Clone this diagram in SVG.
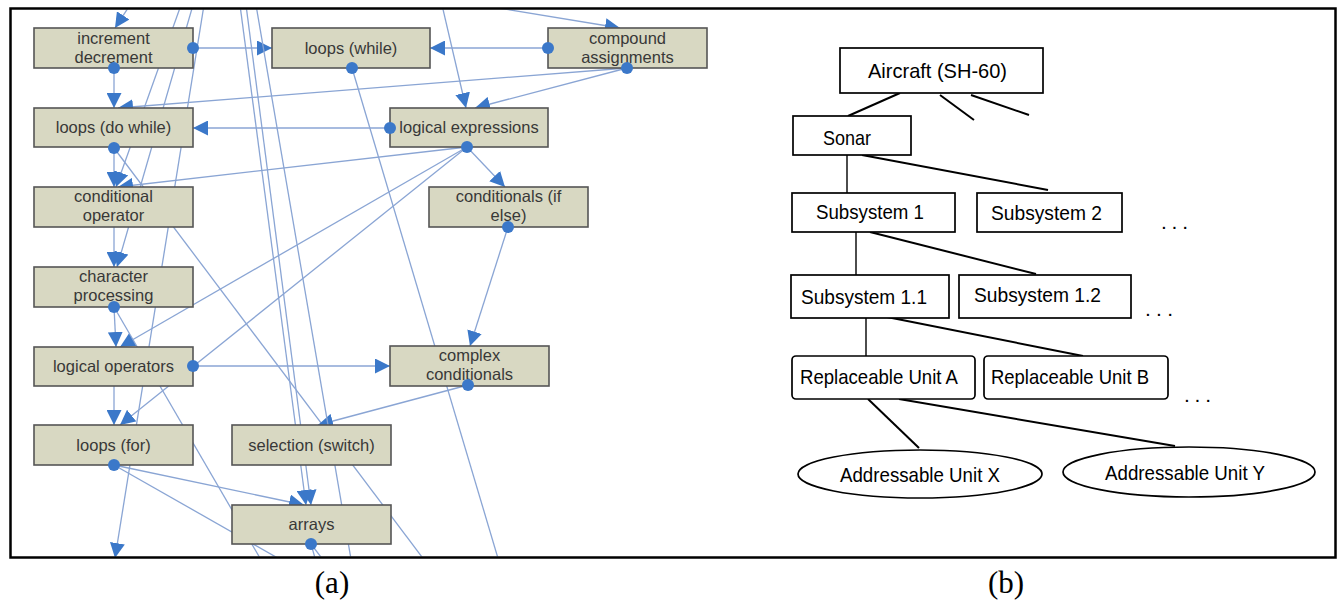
<svg xmlns="http://www.w3.org/2000/svg" width="1338" height="601" viewBox="0 0 1338 601">
<style>
.edge{stroke:#8aa5d4;stroke-width:1.3;fill:none}
.arr{marker-end:url(#arr)}
.node rect{fill:#d8d8c2;stroke:#555;stroke-width:1.6}
.node text,.lbl{font-family:"Liberation Sans",Arial,sans-serif;font-size:16.5px;fill:#383838;text-anchor:middle}
.dot{fill:#3b78c9}
.bbox{fill:#fff;stroke:#000;stroke-width:1.7}
.bline{stroke:#000;stroke-width:2;fill:none}
.btxt{font-family:"Liberation Sans",Arial,sans-serif;font-size:21px;fill:#000}
.cap{font-family:"Liberation Serif","Times New Roman",serif;font-size:31px;fill:#000;text-anchor:middle}
</style>
<defs>
<marker id="arr" markerUnits="userSpaceOnUse" markerWidth="16" markerHeight="15" refX="15" refY="7.5" orient="auto">
<path d="M0,0 L15,7.5 L0,15 z" fill="#3b78c9"/>
</marker>
<clipPath id="clipA"><rect x="11" y="9.5" width="722" height="547"/></clipPath>
</defs>
<rect width="1338" height="601" fill="#fff"/>

<g id="panel-a" clip-path="url(#clipA)">
<g id="connectors-a">
<line class="edge arr" x1="130" y1="5" x2="115" y2="28"/>
<line class="edge arr" x1="193" y1="48" x2="272" y2="48"/>
<line class="edge arr" x1="114" y1="68" x2="114" y2="108"/>
<line class="edge arr" x1="548" y1="48" x2="430" y2="48"/>
<line class="edge arr" x1="627" y1="68" x2="118" y2="108"/>
<line class="edge arr" x1="627" y1="68" x2="475" y2="108"/>
<line class="edge arr" x1="442" y1="5" x2="466" y2="108"/>
<line class="edge arr" x1="480" y1="5" x2="620" y2="28"/>
<line class="edge arr" x1="390" y1="128" x2="193" y2="128"/>
<line class="edge" x1="352" y1="68" x2="500" y2="565"/>
<line class="edge arr" x1="467" y1="147" x2="505" y2="187"/>
<line class="edge arr" x1="467" y1="147" x2="118" y2="187"/>
<line class="edge arr" x1="467" y1="147" x2="120" y2="347"/>
<line class="edge arr" x1="467" y1="147" x2="120" y2="425"/>
<line class="edge arr" x1="114" y1="148" x2="114" y2="187"/>
<line class="edge" x1="114" y1="148" x2="428" y2="565"/>
<line class="edge arr" x1="181" y1="5" x2="116" y2="187"/>
<line class="edge arr" x1="193" y1="5" x2="117" y2="267"/>
<line class="edge arr" x1="204" y1="5" x2="115" y2="558"/>
<line class="edge arr" x1="114" y1="227" x2="114" y2="267"/>
<line class="edge arr" x1="114" y1="307" x2="116" y2="347"/>
<line class="edge" x1="114" y1="307" x2="264" y2="565"/>
<line class="edge arr" x1="114" y1="385" x2="114" y2="425"/>
<line class="edge arr" x1="193" y1="366" x2="390" y2="366"/>
<line class="edge arr" x1="508" y1="227" x2="470" y2="346"/>
<line class="edge arr" x1="468" y1="385" x2="318" y2="425"/>
<line class="edge arr" x1="114" y1="465" x2="304" y2="505"/>
<line class="edge" x1="114" y1="465" x2="290" y2="565"/>
<line class="edge arr" x1="240" y1="5" x2="306" y2="505"/>
<line class="edge arr" x1="246" y1="5" x2="311" y2="505"/>
<line class="edge" x1="256" y1="5" x2="352" y2="565"/>
<line class="edge" x1="311" y1="544" x2="317" y2="565"/>
<line class="edge" x1="311" y1="544" x2="327" y2="565"/>
</g>

<g id="n-incdec" class="node"><rect x="34" y="28" width="159" height="40"/><text x="113.5" y="44">increment</text><text x="113.5" y="63">decrement</text></g>
<g id="n-while" class="node"><rect x="272" y="28" width="158" height="40"/><text x="351" y="54">loops (while)</text></g>
<g id="n-compound" class="node"><rect x="548" y="28" width="159" height="40"/><text x="627.5" y="44">compound</text><text x="627.5" y="63">assignments</text></g>
<g id="n-dowhile" class="node"><rect x="34" y="108" width="159" height="39"/><text x="113.5" y="133">loops (do while)</text></g>
<g id="n-logexpr" class="node"><rect x="390" y="108" width="158" height="39"/><text x="469" y="133">logical expressions</text></g>
<g id="n-condop" class="node"><rect x="34" y="187" width="159" height="40"/><text x="113.5" y="202">conditional</text><text x="113.5" y="221">operator</text></g>
<g id="n-ifelse" class="node"><rect x="429" y="187" width="159" height="40"/><text x="508.5" y="202">conditionals (if</text><text x="508.5" y="221">else)</text></g>
<g id="n-charproc" class="node"><rect x="34" y="267" width="159" height="40"/><text x="113.5" y="282">character</text><text x="113.5" y="301">processing</text></g>
<g id="n-logops" class="node"><rect x="34" y="347" width="159" height="39"/><text x="113.5" y="372">logical operators</text></g>
<g id="n-complex" class="node"><rect x="390" y="346" width="159" height="40"/><text x="469.5" y="361">complex</text><text x="469.5" y="380">conditionals</text></g>
<g id="n-for" class="node"><rect x="34" y="425" width="159" height="40"/><text x="113.5" y="451">loops (for)</text></g>
<g id="n-switch" class="node"><rect x="232" y="425" width="159" height="40"/><text x="311.5" y="451">selection (switch)</text></g>
<g id="n-arrays" class="node"><rect x="232" y="505" width="159" height="39"/><text x="311.5" y="530">arrays</text></g>

<g id="edge-ports">
<circle class="dot" cx="193" cy="48" r="6"/>
<circle class="dot" cx="114" cy="68" r="6"/>
<circle class="dot" cx="548" cy="48" r="6"/>
<circle class="dot" cx="627" cy="68" r="6"/>
<circle class="dot" cx="352" cy="68" r="6"/>
<circle class="dot" cx="390" cy="128" r="6"/>
<circle class="dot" cx="467" cy="147" r="6"/>
<circle class="dot" cx="114" cy="148" r="6"/>
<circle class="dot" cx="508" cy="227" r="6"/>
<circle class="dot" cx="114" cy="307" r="6"/>
<circle class="dot" cx="193" cy="366" r="6"/>
<circle class="dot" cx="468" cy="385" r="6"/>
<circle class="dot" cx="114" cy="465" r="6"/>
<circle class="dot" cx="311" cy="544" r="6"/>
</g>
</g>

<g id="panel-b">
<g id="connectors-b">
<line class="bline" x1="900" y1="93" x2="848" y2="116"/>
<line class="bline" x1="940" y1="95" x2="974" y2="120"/>
<line class="bline" x1="971" y1="95" x2="1029" y2="115"/>
<line class="bline" style="stroke-width:1.4" x1="847" y1="155" x2="847" y2="193"/>
<line class="bline" x1="862" y1="155" x2="1048" y2="190"/>
<line class="bline" style="stroke-width:1.4" x1="856" y1="232" x2="856" y2="275"/>
<line class="bline" x1="870" y1="232" x2="1036" y2="274"/>
<line class="bline" style="stroke-width:1.4" x1="866" y1="318" x2="866" y2="356"/>
<line class="bline" x1="887" y1="317" x2="1083" y2="356"/>
<line class="bline" x1="868" y1="399" x2="919" y2="448"/>
<line class="bline" x1="899" y1="399" x2="1175" y2="446"/>
</g>
<g id="b-aircraft"><rect class="bbox" x="840" y="48" width="203" height="45"/><text class="btxt" x="868" y="78" textLength="139" lengthAdjust="spacingAndGlyphs">Aircraft (SH-60)</text></g>
<g id="b-sonar"><rect class="bbox" x="793" y="116" width="118" height="39"/><text class="btxt" x="823" y="145" textLength="48" lengthAdjust="spacingAndGlyphs">Sonar</text></g>
<g id="b-sub1"><rect class="bbox" x="792" y="193" width="163" height="39"/><text class="btxt" x="816" y="219" textLength="108" lengthAdjust="spacingAndGlyphs">Subsystem 1</text></g>
<g id="b-sub2"><rect class="bbox" x="977" y="193" width="145" height="39"/><text class="btxt" x="991" y="220" textLength="111" lengthAdjust="spacingAndGlyphs">Subsystem 2</text></g>
<g id="b-sub11"><rect class="bbox" x="791" y="275" width="158" height="43"/><text class="btxt" x="801" y="304" textLength="126" lengthAdjust="spacingAndGlyphs">Subsystem 1.1</text></g>
<g id="b-sub12"><rect class="bbox" x="959" y="275" width="172" height="43"/><text class="btxt" x="974" y="302" textLength="127" lengthAdjust="spacingAndGlyphs">Subsystem 1.2</text></g>
<g id="b-rua"><rect class="bbox" x="792" y="356" width="183" height="43" rx="4"/><text class="btxt" x="800" y="384" textLength="158" lengthAdjust="spacingAndGlyphs">Replaceable Unit A</text></g>
<g id="b-rub"><rect class="bbox" x="984" y="356" width="184" height="43" rx="4"/><text class="btxt" x="991" y="384" textLength="158" lengthAdjust="spacingAndGlyphs">Replaceable Unit B</text></g>
<g id="b-aux"><ellipse class="bbox" cx="920" cy="474" rx="122" ry="24"/><text class="btxt" x="840" y="482" textLength="160" lengthAdjust="spacingAndGlyphs">Addressable Unit X</text></g>
<g id="b-auy"><ellipse class="bbox" cx="1189" cy="472" rx="126" ry="25"/><text class="btxt" x="1105" y="480" textLength="160" lengthAdjust="spacingAndGlyphs">Addressable Unit Y</text></g>
<text class="btxt" x="1161" y="229" textLength="27" lengthAdjust="spacing">...</text>
<text class="btxt" x="1145" y="316" textLength="28" lengthAdjust="spacing">...</text>
<text class="btxt" x="1184" y="402" textLength="27" lengthAdjust="spacing">...</text>
</g>

<rect x="10.5" y="8.5" width="1325" height="549" fill="none" stroke="#000" stroke-width="2.5"/>
<text class="cap" x="332" y="593">(a)</text>
<text class="cap" x="1006" y="593">(b)</text>
</svg>
